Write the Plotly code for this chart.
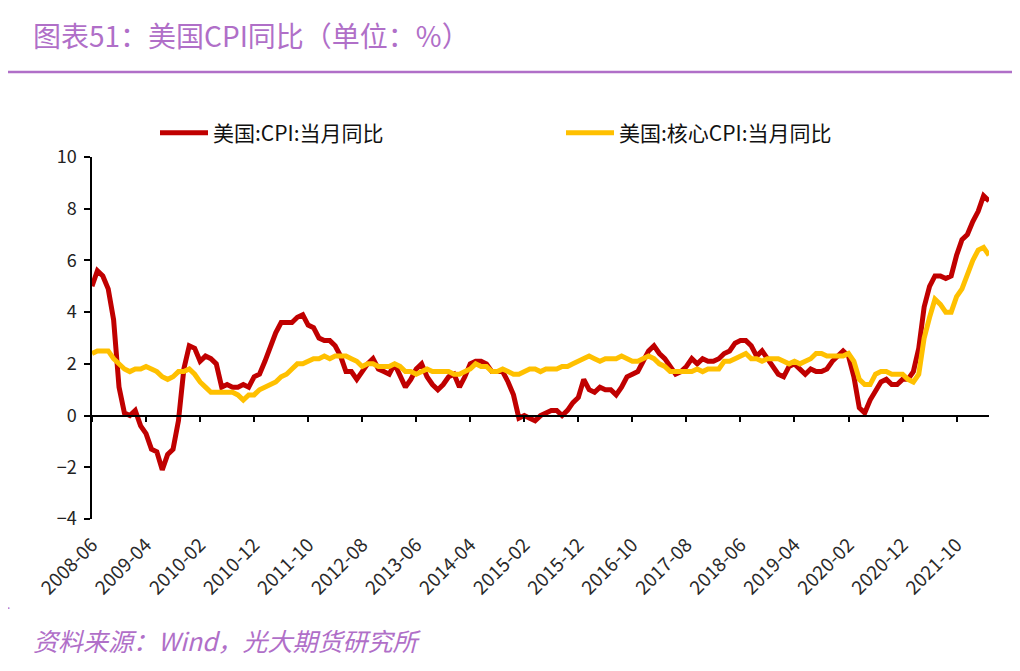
import plotly.graph_objects as go
import pandas as pd

months = [p.strftime("%Y-%m") for p in pd.period_range("2008-06", "2022-04", freq="M")]

cpi = [
    5.0, 5.6, 5.4, 4.9, 3.7, 1.1, 0.1,
    0.0, 0.2, -0.4, -0.7, -1.3, -1.4, -2.1, -1.5, -1.3, -0.2, 1.8, 2.7,
    2.6, 2.1, 2.3, 2.2, 2.0, 1.1, 1.2, 1.1, 1.1, 1.2, 1.1, 1.5,
    1.6, 2.1, 2.7, 3.2, 3.6, 3.6, 3.6, 3.8, 3.9, 3.5, 3.4, 3.0,
    2.9, 2.9, 2.7, 2.3, 1.7, 1.7, 1.4, 1.7, 2.0, 2.2, 1.8, 1.7,
    1.6, 2.0, 1.5, 1.1, 1.4, 1.8, 2.0, 1.5, 1.2, 1.0, 1.2, 1.5,
    1.6, 1.1, 1.5, 2.0, 2.1, 2.1, 2.0, 1.7, 1.7, 1.7, 1.3, 0.8,
    -0.1, 0.0, -0.1, -0.2, 0.0, 0.1, 0.2, 0.2, 0.0, 0.2, 0.5, 0.7,
    1.4, 1.0, 0.9, 1.1, 1.0, 1.0, 0.8, 1.1, 1.5, 1.6, 1.7, 2.1,
    2.5, 2.7, 2.4, 2.2, 1.9, 1.6, 1.7, 1.9, 2.2, 2.0, 2.2, 2.1,
    2.1, 2.2, 2.4, 2.5, 2.8, 2.9, 2.9, 2.7, 2.3, 2.5, 2.2, 1.9,
    1.6, 1.5, 1.9, 2.0, 1.8, 1.6, 1.8, 1.7, 1.7, 1.8, 2.1, 2.3,
    2.5, 2.3, 1.5, 0.3, 0.1, 0.6, 1.0, 1.3, 1.4, 1.2, 1.2, 1.4,
    1.4, 1.7, 2.6, 4.2, 5.0, 5.4, 5.4, 5.3, 5.4, 6.2, 6.8, 7.0,
    7.5, 7.9, 8.5, 8.3,
]

core = [
    2.4, 2.5, 2.5, 2.5, 2.2, 2.0, 1.8,
    1.7, 1.8, 1.8, 1.9, 1.8, 1.7, 1.5, 1.4, 1.5, 1.7, 1.7, 1.8,
    1.6, 1.3, 1.1, 0.9, 0.9, 0.9, 0.9, 0.9, 0.8, 0.6, 0.8, 0.8,
    1.0, 1.1, 1.2, 1.3, 1.5, 1.6, 1.8, 2.0, 2.0, 2.1, 2.2, 2.2,
    2.3, 2.2, 2.3, 2.3, 2.3, 2.2, 2.1, 1.9, 2.0, 2.0, 1.9, 1.9,
    1.9, 2.0, 1.9, 1.7, 1.7, 1.6, 1.7, 1.8, 1.7, 1.7, 1.7, 1.7,
    1.6, 1.6, 1.7, 1.8, 2.0, 1.9, 1.9, 1.7, 1.7, 1.8, 1.7, 1.6,
    1.6, 1.7, 1.8, 1.8, 1.7, 1.8, 1.8, 1.8, 1.9, 1.9, 2.0, 2.1,
    2.2, 2.3, 2.2, 2.1, 2.2, 2.2, 2.2, 2.3, 2.2, 2.1, 2.1, 2.2,
    2.3, 2.2, 2.0, 1.9, 1.7, 1.7, 1.7, 1.7, 1.7, 1.8, 1.7, 1.8,
    1.8, 1.8, 2.1, 2.1, 2.2, 2.3, 2.4, 2.2, 2.2, 2.1, 2.2, 2.2,
    2.2, 2.1, 2.0, 2.1, 2.0, 2.1, 2.2, 2.4, 2.4, 2.3, 2.3, 2.3,
    2.3, 2.4, 2.1, 1.4, 1.2, 1.2, 1.6, 1.7, 1.7, 1.6, 1.6, 1.6,
    1.4, 1.3, 1.6, 3.0, 3.8, 4.5, 4.3, 4.0, 4.0, 4.6, 4.9, 5.5,
    6.0, 6.4, 6.5, 6.2,
]

series_names = ["美国:CPI:当月同比", "美国:核心CPI:当月同比"]
y_ticks = [-4, -2, 0, 2, 4, 6, 8, 10]
tick_every = 10
tick_labels = months[::tick_every]

title_text = "图表51：美国CPI同比（单位：%）"
source_text = "资料来源：Wind，光大期货研究所"

PURPLE = "#B06FC8"
FONT = "Noto Sans CJK SC"

# page is offset by 8px body margin
OFF = 8
PL, PR, PT, PB = 92, 989, 157, 519
PW, PH = PR - PL, PB - PT


def px(xpix):
    return (xpix - PL) / PW


def py(ypix):
    return (PB - ypix) / PH


fig = go.Figure()
fig.add_trace(go.Scatter(x=months, y=cpi, mode="lines", name=series_names[0],
                         line=dict(color="#C00000", width=5)))
fig.add_trace(go.Scatter(x=months, y=core, mode="lines", name=series_names[1],
                         line=dict(color="#FFC000", width=5)))
# helper invisible trace for the zero-line axis with ticks
fig.add_trace(go.Scatter(x=months, y=cpi, xaxis="x2", mode="lines",
                         line=dict(width=0), opacity=0, showlegend=False,
                         hoverinfo="skip"))

fig.update_layout(
    width=1020, height=671,
    margin=dict(l=PL - OFF, r=1020 + OFF - PR, t=PT - OFF, b=671 + OFF - PB),
    paper_bgcolor="white", plot_bgcolor="white",
    font=dict(family=FONT, color="#222222"),
    showlegend=True,
    legend=dict(orientation="h", x=px(155), xanchor="left", y=py(133), yanchor="middle",
                font=dict(size=21, color="#111111", family=FONT),
                entrywidth=343, itemwidth=48, bgcolor="rgba(0,0,0,0)"),
    xaxis=dict(type="category", range=[0, len(months) - 1],
               tickmode="array", tickvals=tick_labels, ticktext=tick_labels,
               tickangle=-45, showline=False, ticks="", showgrid=False,
               ticklabelstandoff=10,
               zeroline=False, tickfont=dict(size=19, color="#2a2a2a", family=FONT)),
    xaxis2=dict(type="category", range=[0, len(months) - 1], overlaying="x",
                anchor="free", position=4 / 14, side="bottom",
                tickmode="array", tickvals=tick_labels, showticklabels=False,
                showline=True, linecolor="#000000", linewidth=1.5,
                ticks="outside", ticklen=6, tickwidth=1.5, tickcolor="#000000",
                showgrid=False, zeroline=False),
    yaxis=dict(range=[-4, 10], tickvals=y_ticks, showgrid=False, zeroline=False,
               showline=True, linecolor="#000000", linewidth=1.5,
               ticks="outside", ticklen=6, tickwidth=1.5, tickcolor="#000000",
               ticklabelstandoff=4,
               tickfont=dict(size=18, color="#222222", family=FONT)),
)

fig.add_annotation(text=title_text, xref="paper", yref="paper",
                   x=px(31), y=py(35),
                   xanchor="left", yanchor="middle", showarrow=False,
                   font=dict(size=28, color=PURPLE, family=FONT))
fig.add_shape(type="line", xref="paper", yref="paper",
              x0=px(8), x1=px(1025), y0=py(72), y1=py(72),
              line=dict(color=PURPLE, width=2.5))
fig.add_annotation(text="<i>" + source_text + "</i>", xref="paper", yref="paper",
                   x=px(31), y=py(640),
                   xanchor="left", yanchor="middle", showarrow=False,
                   font=dict(size=25, color=PURPLE, family=FONT))
fig.add_annotation(text=".", xref="paper", yref="paper",
                   x=px(8), y=py(603),
                   xanchor="center", yanchor="middle", showarrow=False,
                   font=dict(size=12, color=PURPLE, family=FONT))

fig.write_html("out.html")
